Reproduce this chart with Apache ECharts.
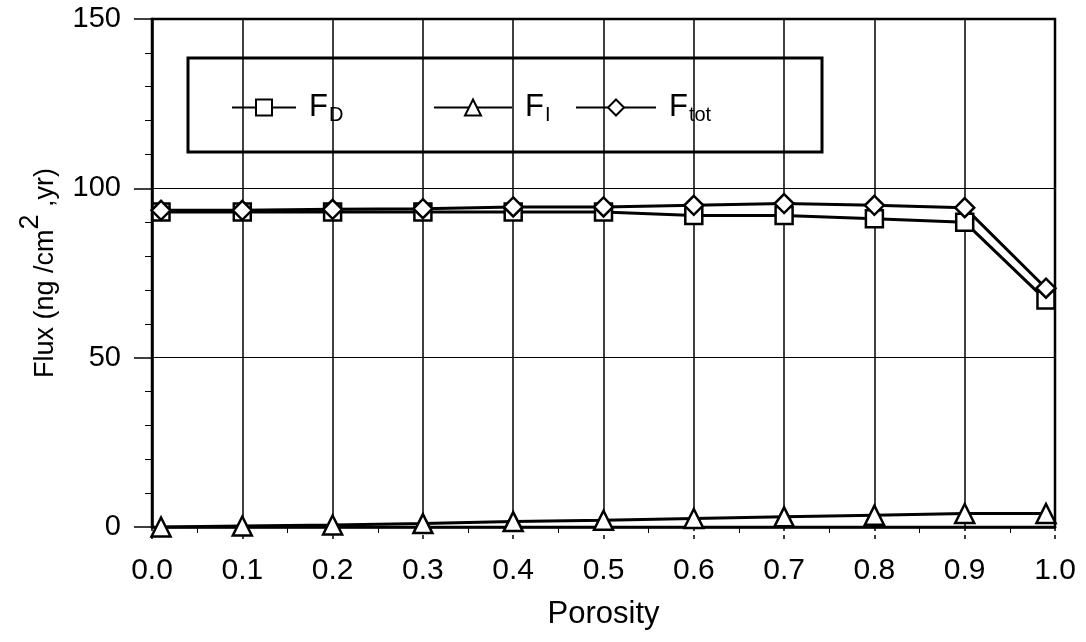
<!DOCTYPE html>
<html><head><meta charset="utf-8">
<script src="https://cdn.jsdelivr.net/npm/echarts@6/dist/echarts.min.js"></script>
<style>html,body{margin:0;padding:0;background:#fff}#c{width:1086px;height:642px}</style>
</head><body><div id="c"></div>
<script>
const porosity = [0.01, 0.1, 0.2, 0.3, 0.4, 0.5, 0.6, 0.7, 0.8, 0.9, 0.99];
const fluxD   = [93, 93, 93, 93, 93, 93, 92, 92, 91, 90, 67];
const fluxI   = [0, 0.3, 0.6, 1, 1.6, 2, 2.5, 3, 3.5, 4, 4];
const fluxTot = [93.5, 93.5, 93.8, 94, 94.5, 94.5, 95, 95.5, 95, 94.3, 70.5];
const xTicks = ['0.0','0.1','0.2','0.3','0.4','0.5','0.6','0.7','0.8','0.9','1.0'];
const seriesNames = ['FD', 'FI', 'Ftot'];
const legendLabels = ['F{sub|D}', 'F{sub|I}', 'F{sub|tot}'];

const font = 'Liberation Sans, Arial, sans-serif';
const pair = (xs, ys) => xs.map((x, i) => [x, ys[i]]);
const chart = echarts.init(document.getElementById('c'));
const mk = (name, data, symbol, size) => ({
  name, type: 'line', data, symbol, symbolSize: size,
  lineStyle: {color: '#000', width: 3},
  itemStyle: {color: '#fff', borderColor: '#000', borderWidth: 2.5},
  emphasis: {disabled: true}, z: 3
});
const legendLeft = [226, 428, 570];
const legendW = [64, 78, 80];
chart.setOption({
  animation: false,
  backgroundColor: '#fff',
  grid: {left: 152, right: 31, top: 19, bottom: 115, show: true, borderColor: '#000', borderWidth: 2.5},
  legend: seriesNames.map((n, i) => ({
    left: legendLeft[i], top: 87, itemWidth: legendW[i], itemHeight: 20, itemGap: 0,
    textStyle: {fontFamily: font, fontSize: 31, color: '#000', padding: [0, 0, 0, 8],
      rich: {sub: {fontFamily: font, fontSize: 20, color: '#000', verticalAlign: 'bottom', padding: [16, 0, 0, 1]}}},
    formatter: () => legendLabels[i],
    data: [n]
  })),
  graphic: [{type: 'rect', shape: {x: 188, y: 58, width: 634, height: 94},
    style: {fill: 'none', stroke: '#000', lineWidth: 3}, z: 10}],
  xAxis: {
    type: 'value', min: 0, max: 1, interval: 0.1,
    name: 'Porosity', nameLocation: 'middle', nameGap: 72,
    nameTextStyle: {fontFamily: font, fontSize: 31, color: '#000'},
    axisLine: {lineStyle: {color: '#000', width: 2.5}},
    axisTick: {length: 16, lineStyle: {color: '#000', width: 1.5, type: [4, 4]}},
    minorTick: {show: true, splitNumber: 2, length: 6, lineStyle: {color: '#000'}},
    splitLine: {show: true, lineStyle: {color: '#000', width: 1.5}},
    axisLabel: {fontFamily: font, fontSize: 30, color: '#000', margin: 29,
      formatter: v => xTicks[Math.round(v * 10)]}
  },
  yAxis: {
    type: 'value', min: 0, max: 150, interval: 50,
    name: 'Flux (ng /cm{sup|2} ,yr)', nameLocation: 'middle', nameGap: 78, nameRotate: 90,
    nameTextStyle: {fontFamily: font, fontSize: 27, color: '#000',
      rich: {sup: {fontFamily: font, fontSize: 27, color: '#000', verticalAlign: 'top', padding: [0, 0, 30, 0]}}},
    axisLine: {lineStyle: {color: '#000', width: 2.5}},
    axisTick: {length: 18, lineStyle: {color: '#000', width: 1.5}},
    minorTick: {show: true, splitNumber: 5, length: 7, lineStyle: {color: '#000'}},
    splitLine: {show: true, lineStyle: {color: '#000', width: 1.2}},
    axisLabel: {fontFamily: font, fontSize: 29, color: '#000', margin: 31}
  },
  series: [
    mk('FD', pair(porosity, fluxD), 'rect', 17),
    mk('FI', pair(porosity, fluxI), 'triangle', 19),
    mk('Ftot', pair(porosity, fluxTot), 'diamond', 19)
  ]
});
</script></body></html>
